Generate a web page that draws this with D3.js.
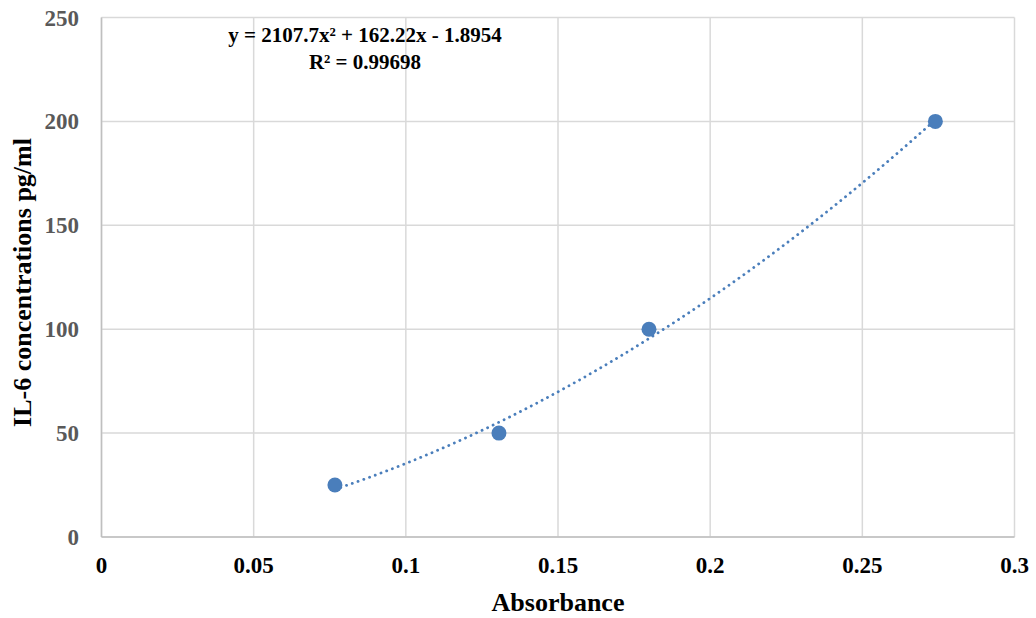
<!DOCTYPE html>
<html><head><meta charset="utf-8">
<script src="https://cdn.jsdelivr.net/npm/d3@7"></script>
<style>body{margin:0;background:#fff}svg{display:block}</style>
</head><body>
<svg id="c" width="1036" height="618"></svg>
<script>
const absorbance = [0.0767, 0.1306, 0.1799, 0.274];
const concentration = [25, 50, 100, 200];
const xTicks = [0, 0.05, 0.1, 0.15, 0.2, 0.25, 0.3];
const yTicks = [0, 50, 100, 150, 200, 250];
const coef = [2107.7, 162.22, -1.8954];
const eqLines = ["y = 2107.7x² + 162.22x - 1.8954", "R² = 0.99698"];

const svg = d3.select("#c");
const font = "'Liberation Serif','Times New Roman',serif";
const L = 101.5, R = 1014.5, T = 17.5, B = 537;
const x = d3.scaleLinear().domain([0, 0.3]).range([L, R]);
const y = d3.scaleLinear().domain([0, 250]).range([B, T]);

// gridlines
svg.append("g").selectAll("line").data(yTicks).join("line")
  .attr("x1", L).attr("x2", R).attr("y1", d => y(d)).attr("y2", d => y(d))
  .attr("stroke", "#d9d9d9").attr("stroke-width", 1.5);
svg.append("g").selectAll("line").data(xTicks).join("line")
  .attr("y1", T).attr("y2", B).attr("x1", d => x(d)).attr("x2", d => x(d))
  .attr("stroke", "#d9d9d9").attr("stroke-width", 1.5);
// axes lines
svg.append("line").attr("x1", L).attr("x2", R).attr("y1", B).attr("y2", B).attr("stroke", "#bfbfbf").attr("stroke-width", 1.5);
svg.append("line").attr("x1", L).attr("x2", L).attr("y1", T).attr("y2", B).attr("stroke", "#bfbfbf").attr("stroke-width", 1.5);

// tick labels
svg.append("g").selectAll("text").data(yTicks).join("text")
  .attr("x", 79).attr("y", d => y(d)).attr("dy", "0.35em")
  .attr("text-anchor", "end").attr("font-family", font).attr("font-weight", "bold")
  .attr("font-size", 23).attr("fill", "#595959").text(d => d);
svg.append("g").selectAll("text").data(xTicks).join("text")
  .attr("x", d => x(d)).attr("y", 573)
  .attr("text-anchor", "middle").attr("font-family", font).attr("font-weight", "bold")
  .attr("font-size", 23).attr("fill", "#000").text(d => d3.format("")(d));

// axis titles
svg.append("text").attr("x", (L + R) / 2).attr("y", 611).attr("text-anchor", "middle")
  .attr("font-family", font).attr("font-weight", "bold").attr("font-size", 26).text("Absorbance");
svg.append("text").attr("transform", `translate(31,${282.5}) rotate(-90)`).attr("text-anchor", "middle")
  .attr("font-family", font).attr("font-weight", "bold").attr("font-size", 26).text("IL-6 concentrations pg/ml");

// trendline
const x0 = d3.min(absorbance), x1 = d3.max(absorbance);
const tl = d3.range(0, 101).map(i => {
  const a = x0 + (x1 - x0) * i / 100;
  return [a, coef[0] * a * a + coef[1] * a + coef[2]];
});
svg.append("path").datum(tl)
  .attr("d", d3.line().x(d => x(d[0])).y(d => y(d[1])))
  .attr("fill", "none").attr("stroke", "#4a7ebb").attr("stroke-width", 2.8)
  .attr("stroke-dasharray", "0.1 6").attr("stroke-linecap", "round");

// points
svg.append("g").selectAll("circle").data(absorbance).join("circle")
  .attr("cx", d => x(d)).attr("cy", (d, i) => y(concentration[i])).attr("r", 7.5)
  .attr("fill", "#4a7ebb");

// equation
svg.append("g").selectAll("text").data(eqLines).join("text")
  .attr("x", 365).attr("y", (d, i) => 35 + i * 26.5).attr("dy", "0.35em")
  .attr("text-anchor", "middle").attr("font-family", font).attr("font-weight", "bold")
  .attr("font-size", 21).text(d => d);
</script>
</body></html>
